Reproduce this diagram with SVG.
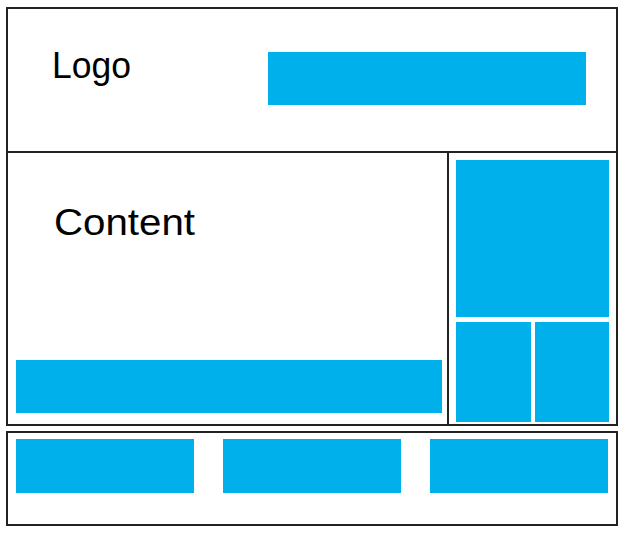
<svg xmlns="http://www.w3.org/2000/svg" width="624" height="533" viewBox="0 0 624 533">
<style>
.box{fill:#fff;stroke:#222;stroke-width:2}
.blue{fill:#00b0ea}
.lbl{font-family:"Liberation Sans",Arial,sans-serif;fill:#000}
</style>
<rect x="0" y="0" width="624" height="533" fill="#fff"/>
<g id="header">
<rect class="box" x="7" y="8" width="610" height="144"/>
<text class="lbl" x="52" y="78" font-size="36" textLength="79" lengthAdjust="spacingAndGlyphs">Logo</text>
<rect class="blue" x="268" y="52" width="318" height="53"/>
</g>
<g id="content">
<rect class="box" x="7" y="152" width="441" height="273"/>
<text class="lbl" x="54" y="235" font-size="37" textLength="141" lengthAdjust="spacingAndGlyphs">Content</text>
<rect class="blue" x="16" y="360" width="426" height="53"/>
</g>
<g id="sidebar">
<rect class="box" x="448" y="152" width="169" height="273"/>
<rect class="blue" x="456" y="160" width="153" height="157"/>
<rect class="blue" x="456" y="322" width="75" height="100"/>
<rect class="blue" x="535" y="322" width="74" height="100"/>
</g>
<g id="footer">
<rect class="box" x="7" y="432" width="610" height="93"/>
<rect class="blue" x="16" y="439" width="178" height="54"/>
<rect class="blue" x="223" y="439" width="178" height="54"/>
<rect class="blue" x="430" y="439" width="178" height="54"/>
</g>
<g id="connectors"/>
</svg>
